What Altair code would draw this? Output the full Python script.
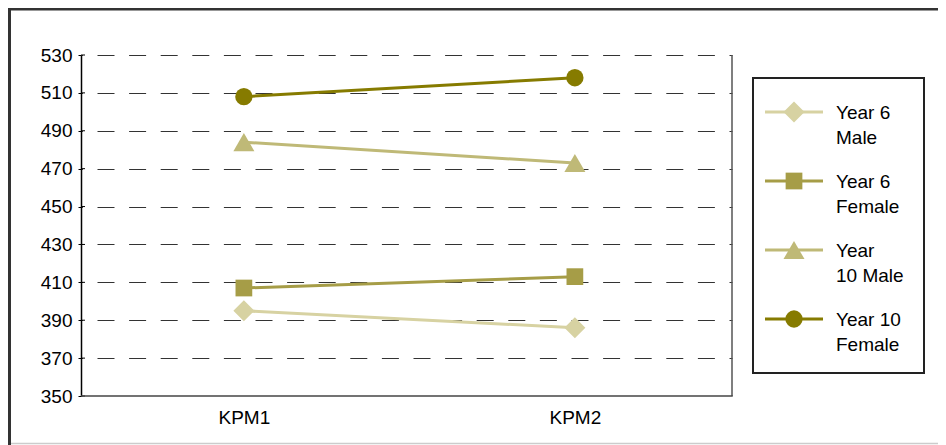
import altair as alt
import pandas as pd

# ---- data ----
categories = ["KPM1", "KPM2"]
series = ["Year 6 Male", "Year 6 Female", "Year 10 Male", "Year 10 Female"]
kpm1 = [395, 407, 484, 508]
kpm2 = [386, 413, 473, 518]
legend_line1 = ["Year 6", "Year 6", "Year", "Year 10"]
legend_line2 = ["Male", "Female", "10 Male", "Female"]
y_ticks = [350, 370, 390, 410, 430, 450, 470, 490, 510, 530]

# ---- styles ----
colors = ["#d7d2a2", "#a69d47", "#bfb977", "#867b00"]
shapes = ["diamond", "square", "triangle-up", "circle"]
sizes = [441, 280, 441, 300]
FONT = "Liberation Sans"
FS = 19

rows = []
for s, a, b in zip(series, kpm1, kpm2):
    for c, v in zip(categories, (a, b)):
        rows.append({"series": s, "kpm": c, "score": v})
df = pd.DataFrame(rows)
ticks_df = pd.DataFrame({"score": y_ticks})
legend_df = pd.DataFrame({"series": series, "line1": legend_line1, "line2": legend_line2})
one = pd.DataFrame({"a": [0]})

color = alt.Color("series:N", scale=alt.Scale(domain=series, range=colors), legend=None)
shape = alt.Shape("series:N", scale=alt.Scale(domain=series, range=shapes), legend=None)
size = alt.Size("series:N", scale=alt.Scale(type="ordinal", domain=series, range=sizes), legend=None)

x = alt.X("kpm:N", sort=categories,
          scale=alt.Scale(type="point", domain=categories, padding=0.4834, align=0.509),
          axis=alt.Axis(title=None, labelAngle=0, ticks=False, tickSize=0, domain=False,
                        labelPadding=12, grid=False, labelFont=FONT, labelFontSize=FS,
                        labelColor="black"))
y = alt.Y("score:Q",
          scale=alt.Scale(domain=[350, 530], nice=False, zero=False),
          axis=alt.Axis(values=y_ticks, title=None, tickSize=3, tickColor="black", tickWidth=1,
                        domainColor="black", domainWidth=1.5, labelPadding=6,
                        labelFont=FONT, labelFontSize=FS, labelColor="black",
                        grid=True, gridColor="#333", gridWidth=1, gridDash=[17, 14.6],
                        gridDashOffset=15.6,
                        gridOpacity={"condition": {"test": "datum.value == 350", "value": 0}, "value": 1}))

lines = alt.Chart(df).mark_line(strokeWidth=3).encode(x=x, y=y, color=color)
points = alt.Chart(df).mark_point(filled=True, opacity=1).encode(x=x, y=y, color=color, shape=shape, size=size)
inner_ticks = alt.Chart(ticks_df).mark_rule(color="black", strokeWidth=1).encode(
    y=y, x=alt.value(0), x2=alt.value(4))
right_border = alt.Chart(one).mark_rule(color="#555", strokeWidth=1.5).encode(
    x=alt.value(651), y=alt.value(0), y2=alt.value(341))
bottom_line = alt.Chart(one).mark_rule(color="#444", strokeWidth=1.5).encode(
    y=alt.value(341), x=alt.value(0), x2=alt.value(651.75))
frame_top = alt.Chart(one).mark_rule(color="#333", strokeWidth=2.5).encode(
    y=alt.value(-45.75), x=alt.value(-73), x2=alt.value(857))
frame_left = alt.Chart(one).mark_rule(color="#333", strokeWidth=3).encode(
    x=alt.value(-71.5), y=alt.value(-47), y2=alt.value(390))
frame_bottom = alt.Chart(one).mark_rule(color="#cccccc", strokeWidth=1.5).encode(
    y=alt.value(388.5), x=alt.value(-70), x2=alt.value(857))

main = alt.layer(inner_ticks, right_border, bottom_line, frame_top, frame_left, frame_bottom,
                 lines, points)

ly = alt.Y("series:N", scale=alt.Scale(type="point", domain=series, range=[57, 264], padding=0),
           axis=None)
box = alt.Chart(one).mark_rect(fill="white", stroke="#222", strokeWidth=2).encode(
    x=alt.value(672), x2=alt.value(843), y=alt.value(23), y2=alt.value(318))
leg_lines = alt.Chart(legend_df).mark_rule(strokeWidth=3).encode(
    x=alt.value(684), x2=alt.value(742), y=ly, color=color)
leg_pts = alt.Chart(legend_df).mark_point(filled=True, opacity=1).encode(
    x=alt.value(713), y=ly, color=color, shape=shape, size=size)
leg_t1 = alt.Chart(legend_df).mark_text(align="left", baseline="middle", dy=1,
                                        font=FONT, fontSize=FS, color="black").encode(
    x=alt.value(755), y=ly, text="line1:N")
leg_t2 = alt.Chart(legend_df).mark_text(align="left", baseline="middle", dy=26,
                                        font=FONT, fontSize=FS, color="black").encode(
    x=alt.value(755), y=ly, text="line2:N")
legend = alt.layer(box, leg_lines, leg_pts, leg_t1, leg_t2)

chart = alt.layer(main, legend).resolve_scale(y="independent").properties(
    width=651, height=341,
    autosize=alt.AutoSizeParams(type="none"),
    padding={"left": 73, "top": 47, "right": 206, "bottom": 49},
    background="white",
).configure_view(stroke=None)

chart.save("out.html", embed_options={"renderer": "svg", "actions": False})
